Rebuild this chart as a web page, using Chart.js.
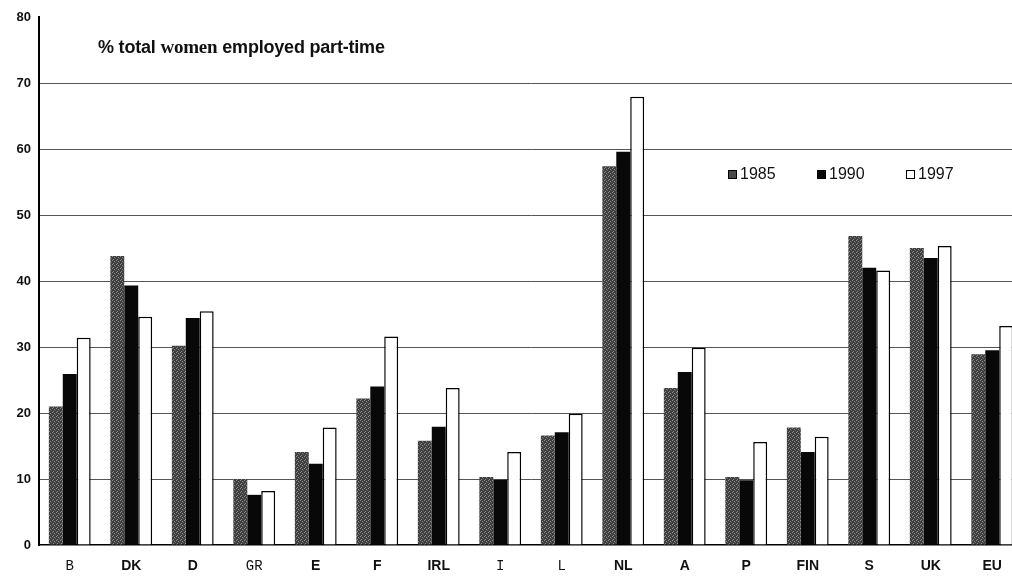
<!DOCTYPE html>
<html>
<head>
<meta charset="utf-8">
<script src="https://cdn.jsdelivr.net/npm/chart.js@4/dist/chart.umd.min.js"></script>
<style>
  html, body { margin: 0; padding: 0; background: #fff; overflow: hidden; }
  #wrap { position: relative; width: 1012px; height: 576px; overflow: hidden; }
  canvas { position: absolute; left: 0; top: 0; }
  #title { position: absolute; left: 98px; top: 36px; font: bold 18px "Liberation Sans", Arial, sans-serif; color: #111; white-space: nowrap; letter-spacing: -0.2px; }
  #title .w { font-family: "Liberation Serif", "DejaVu Serif", serif; font-size: 19px; }
  #legend { position: absolute; left: 728px; top: 165px; font: 16px "Liberation Sans", Arial, sans-serif; color: #111; }
  #legend span.item { position: absolute; white-space: nowrap; }
  #legend i { display: inline-block; width: 9px; height: 9px; margin-right: 3px; vertical-align: 0; box-sizing: border-box; }
</style>
</head>
<body>
<div id="wrap">
  <canvas id="chart" width="1024" height="576"></canvas>
  <div id="title">% total <span class="w">women</span> employed part-time</div>
  <div id="legend"></div>
</div>
<script>
'use strict';

// Part-time share of employed women, by country
const countries = ['B', 'DK', 'D', 'GR', 'E', 'F', 'IRL', 'I', 'L', 'NL', 'A', 'P', 'FIN', 'S', 'UK', 'EU'];
const years = ['1985', '1990', '1997'];
const values1985 = [21.0, 43.8, 30.2, 10.0, 14.1, 22.2, 15.8, 10.3, 16.6, 57.4, 23.8, 10.3, 17.8, 46.8, 45.0, 28.9];
const values1990 = [25.9, 39.3, 34.4, 7.6, 12.3, 24.0, 17.9, 9.9, 17.1, 59.6, 26.2, 9.8, 14.1, 42.0, 43.5, 29.5];
const values1997 = [31.4, 34.6, 35.4, 8.2, 17.8, 31.6, 23.8, 14.1, 19.9, 67.9, 29.9, 15.6, 16.4, 41.6, 45.3, 33.2];
const yTicks = [0, 10, 20, 30, 40, 50, 60, 70, 80];

// stippled dark grey used for the 1985 bars
function stipple() {
    const c = document.createElement('canvas');
    c.width = 4; c.height = 4;
    const g = c.getContext('2d');
    g.fillStyle = '#3e3e3e';
    g.fillRect(0, 0, 4, 4);
    g.fillStyle = '#8c8c8c';
    g.fillRect(0, 0, 1, 1);
    g.fillRect(2, 1, 1, 1);
    g.fillRect(1, 3, 1, 1);
    g.fillStyle = '#666';
    g.fillRect(3, 2, 1, 1);
    return g.createPattern(c, 'repeat');
}

const fills = [stipple(), '#080808', '#ffffff'];
const legendFills = ['#4a4a4a', '#080808', '#ffffff'];
const monoLabels = ['B', 'GR', 'I', 'L'];

const ctx = document.getElementById('chart').getContext('2d');
new Chart(ctx, {
    type: 'bar',
    data: {
        labels: countries,
        datasets: [values1985, values1990, values1997].map((vals, i) => ({
            label: years[i],
            data: vals,
            backgroundColor: fills[i],
            borderColor: '#000',
            borderWidth: i === 2 ? 1.5 : 0,
            barPercentage: 1,
            categoryPercentage: 0.68
        }))
    },
    options: {
        responsive: false,
        animation: false,
        layout: { padding: { top: 17, right: 1, bottom: 0, left: 0 } },
        plugins: { legend: { display: false }, tooltip: { enabled: false } },
        scales: {
            x: {
                afterFit: s => { s.height = 31; },
                grid: { display: false, drawTicks: false },
                border: { color: '#000', width: 1.5 },
                ticks: {
                    padding: 13,
                    color: '#111',
                    font: c => monoLabels.includes(countries[c.index])
                        ? { family: '"Liberation Mono", "DejaVu Sans Mono", monospace', size: 14, weight: 'normal' }
                        : { family: '"Liberation Sans", Arial, sans-serif', size: 14, weight: 'bold' }
                }
            },
            y: {
                min: 0,
                max: 80,
                afterFit: s => { s.width = 39; },
                afterBuildTicks: s => { s.ticks = yTicks.map(v => ({ value: v })); },
                border: { color: '#000', width: 2 },
                grid: {
                    drawTicks: false,
                    color: c => (c.tick.value === 0 || c.tick.value === 80) ? 'rgba(0,0,0,0)' : '#555',
                    lineWidth: 1
                },
                ticks: {
                    padding: 8,
                    color: '#111',
                    font: { family: '"Liberation Sans", Arial, sans-serif', size: 13, weight: 'bold' }
                }
            }
        }
    }
});

// legend row inside the plot, as in the original
const legendEl = document.getElementById('legend');
years.forEach((y, i) => {
    const item = document.createElement('span');
    item.className = 'item';
    item.style.left = (i * 89) + 'px';
    item.innerHTML = `<i style="background:${legendFills[i]};border:1px solid #000"></i>${y}`;
    legendEl.appendChild(item);
});
</script>
</body>
</html>
